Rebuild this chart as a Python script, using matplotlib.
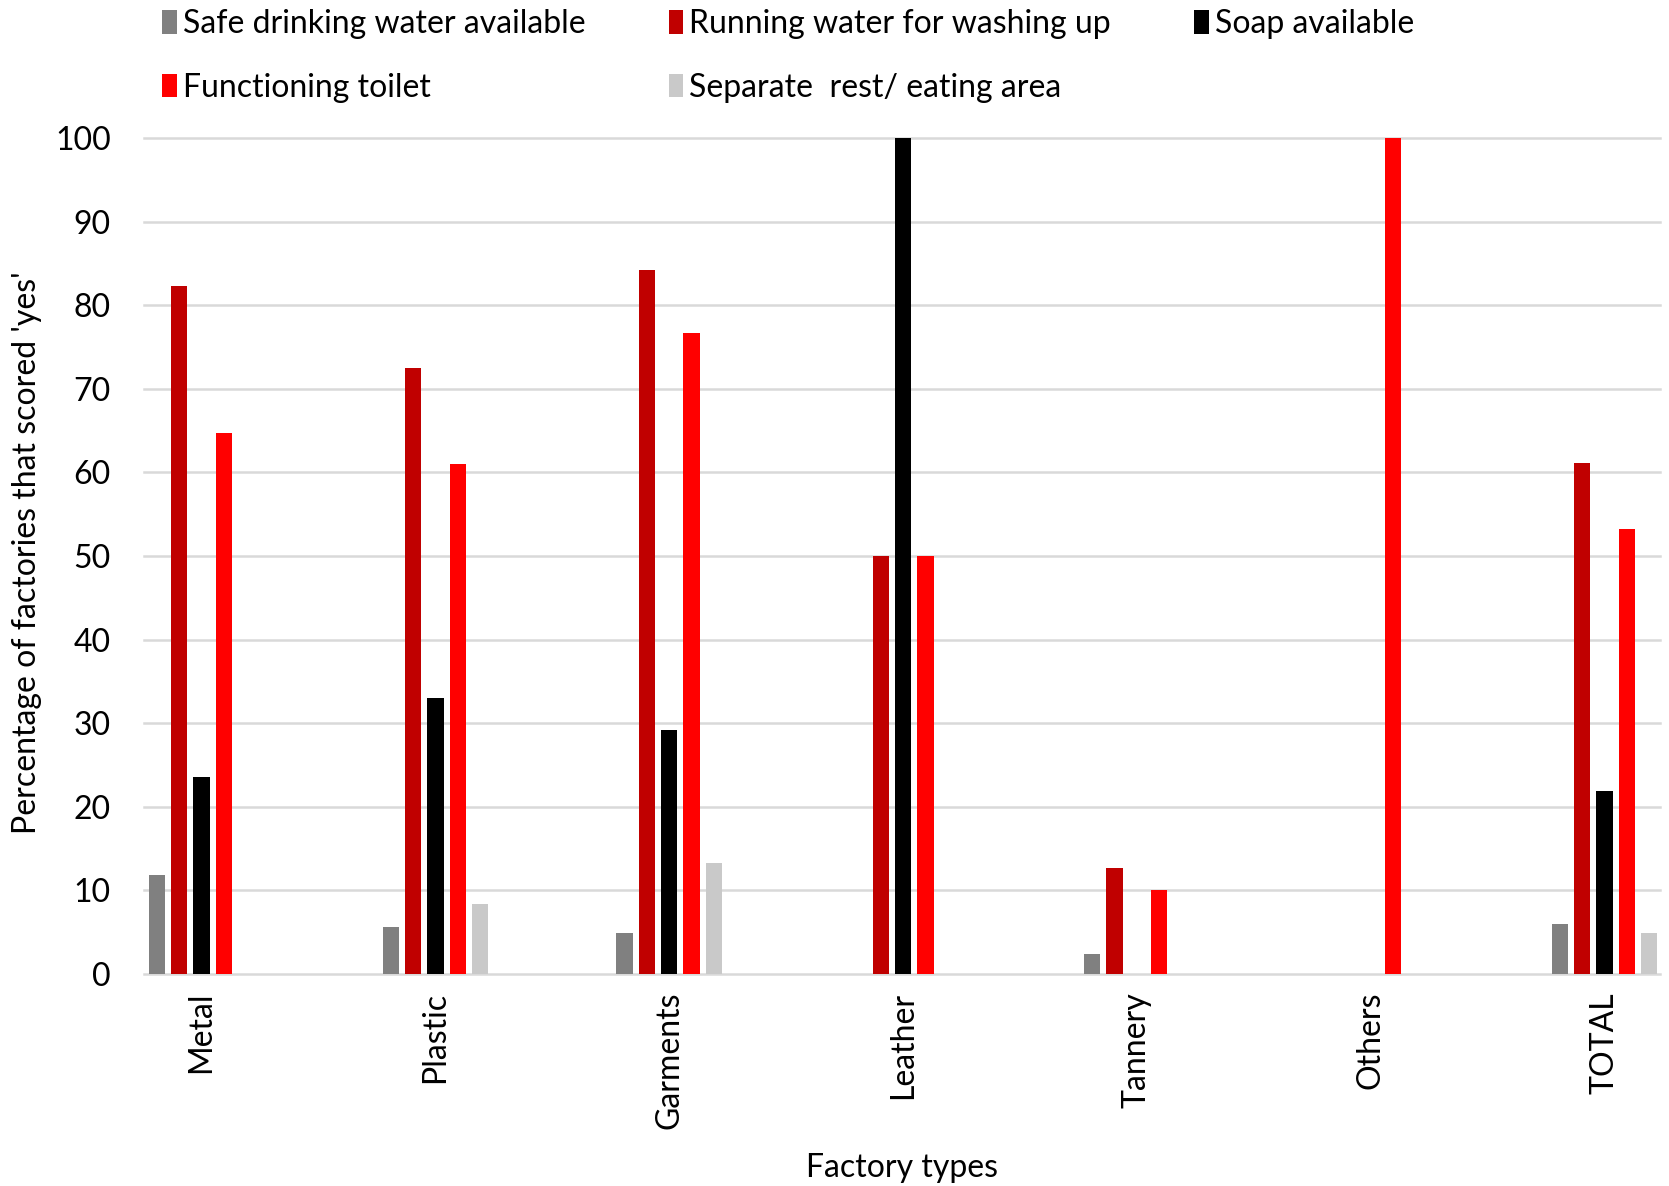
import numpy as np
import matplotlib
matplotlib.use('Agg')
import matplotlib.pyplot as plt

plt.rcParams['font.family'] = ['Lato', 'DejaVu Sans']

categories = ['Metal', 'Plastic', 'Garments', 'Leather', 'Tannery', 'Others', 'TOTAL']

safe_water = [11.8, 5.6, 4.9, 0, 2.4, 0, 6.0]
running_water = [82.3, 72.5, 84.2, 50, 12.7, 0, 61.1]
soap = [23.6, 33.0, 29.2, 100, 0, 0, 21.9]
toilet = [64.7, 61.0, 76.7, 50, 10.1, 100, 53.2]
rest_area = [0, 8.4, 13.3, 0, 0, 0, 4.9]

series_names = ['Safe drinking water available', 'Running water for washing up',
                'Soap available', 'Functioning toilet', 'Separate  rest/ eating area']
series_vals = [safe_water, running_water, soap, toilet, rest_area]
colors = ['#808080', '#c00000', '#000000', '#ff0000', '#c9c9c9']

FS = 23

fig = plt.figure(figsize=(16.69, 11.86), dpi=100, facecolor='white')
ax = fig.add_axes([0.0863, 0.1788, 0.9083, 0.7048])

x = np.arange(len(categories))
pitch = 0.0955
width = 0.07
bars = []
for k, (vals, c, name) in enumerate(zip(series_vals, colors, series_names)):
    b = ax.bar(x + (k - 2) * pitch, vals, width, color=c, label=name, zorder=3)
    bars.append(b)

ax.set_xlim(-0.246, 6.237)
ax.set_ylim(0, 100)
ax.set_yticks(np.arange(0, 101, 10))
ax.yaxis.grid(True, color='#d9d9d9', linewidth=1.8, zorder=0)
ax.set_axisbelow(True)
for ln in ax.get_ygridlines():
    ln.set_clip_on(False)
for sp in ax.spines.values():
    sp.set_visible(False)

ax.set_xticks(x)
ax.set_xticklabels(categories, rotation=90, va='top', ha='center')
ax.tick_params(axis='x', length=0, pad=13, labelsize=FS, colors='#000000')
ax.tick_params(axis='y', length=0, pad=24, labelsize=FS, colors='#000000')

# axis titles at fixed places
fig.text(0.016, 0.5337, "Percentage of factories that scored 'yes'", fontsize=FS,
         rotation=90, ha='center', va='center')
fig.text(0.5405, 0.0152, 'Factory types', fontsize=FS, ha='center', va='center')

# legend: row 1 Safe / Running / Soap, row 2 Toilet / Rest area
order = [0, 3, 1, 4, 2]
fig.legend([bars[i] for i in order], [series_names[i] for i in order],
           ncol=3, loc='upper left', bbox_to_anchor=(0.080, 1.0165),
           frameon=False, fontsize=FS, handlelength=0.45, handleheight=0.75,
           handletextpad=0.2, labelspacing=1.05, columnspacing=2.6)

fig.savefig('out.png', dpi=100, facecolor='white')
